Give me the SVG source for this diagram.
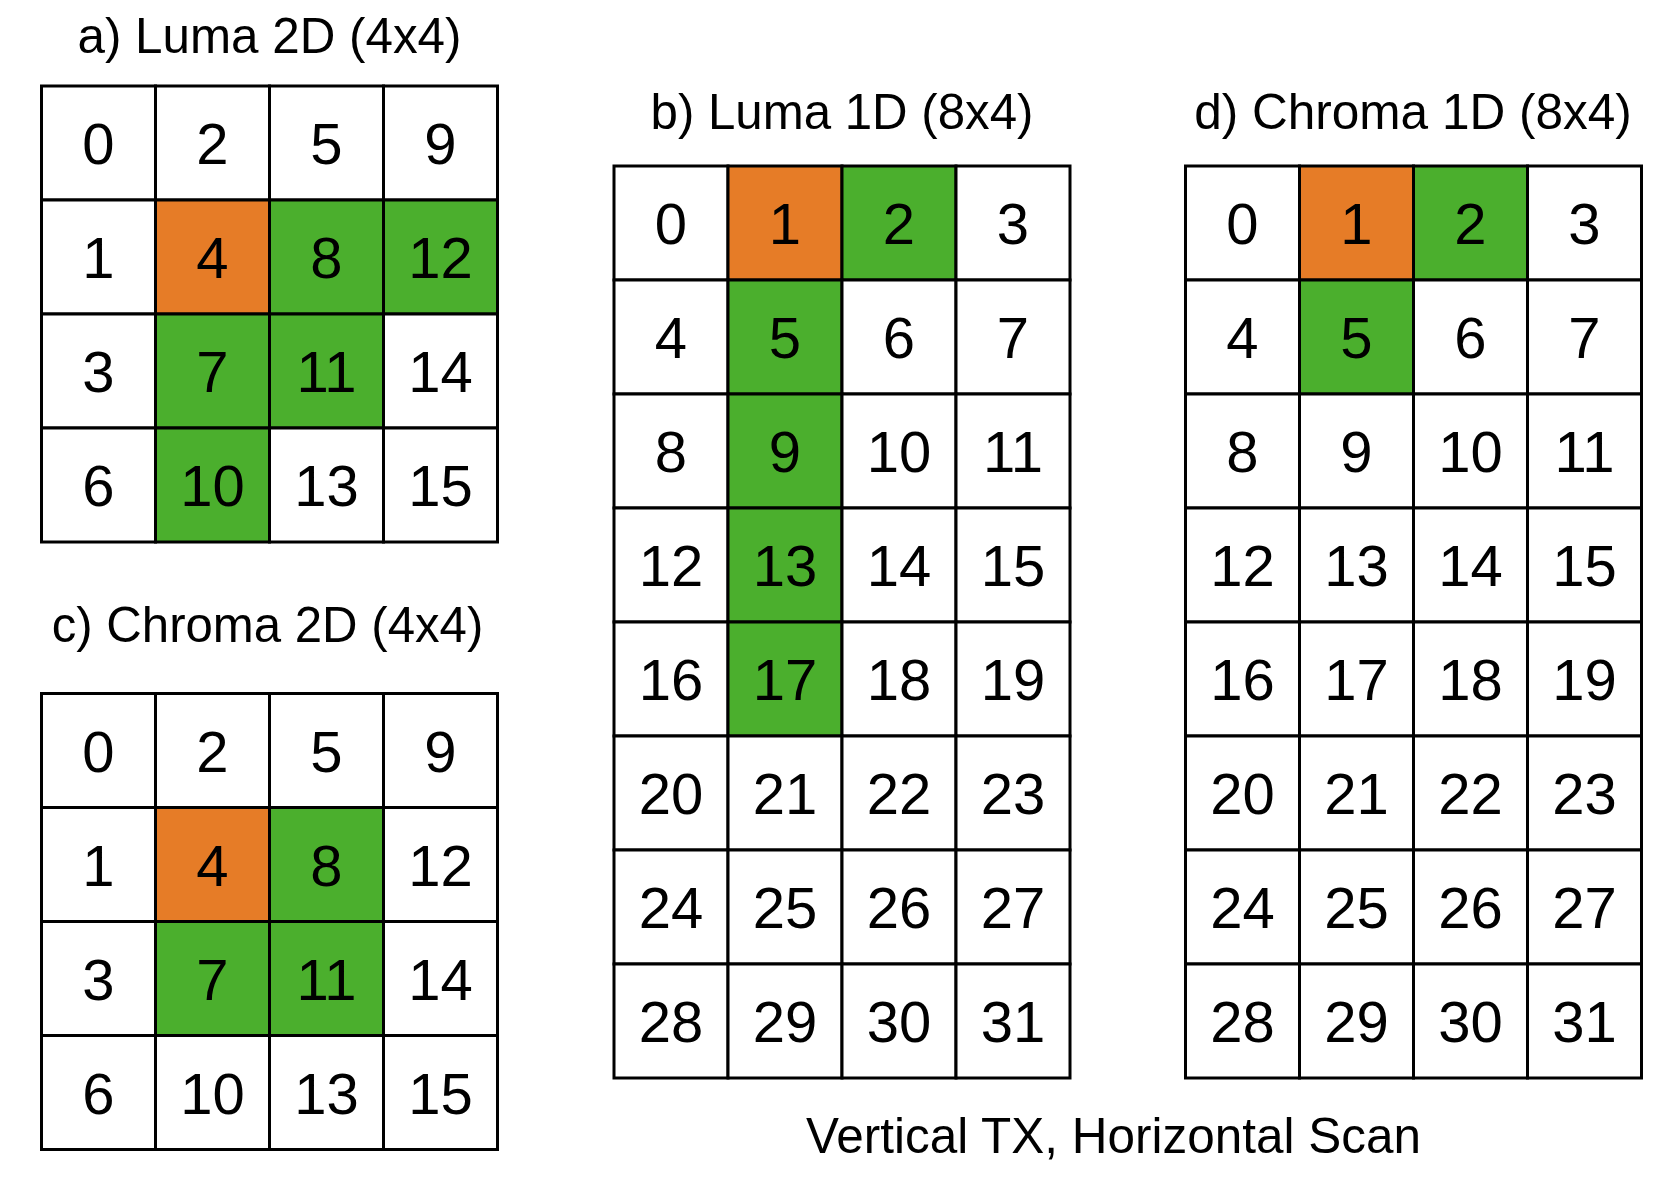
<svg xmlns="http://www.w3.org/2000/svg" width="1666" height="1188" viewBox="0 0 1666 1188">
<style>
.c{fill:#FFFFFF;stroke:#000000;stroke-width:3}
.o{fill:#E67C27;stroke:#000000;stroke-width:3}
.g{fill:#4BAF2D;stroke:#000000;stroke-width:3}
.n{font-family:"Liberation Sans",Arial,Helvetica,sans-serif;font-size:58px;fill:#000000;text-anchor:middle}
.t{font-family:"Liberation Sans",Arial,Helvetica,sans-serif;font-size:49.5px;fill:#000000;text-anchor:middle}
.b{font-family:"Liberation Sans",Arial,Helvetica,sans-serif;font-size:49.5px;fill:#000000;text-anchor:middle}
</style>
<rect x="0" y="0" width="1666" height="1188" fill="#FFFFFF"/>
<g id="connectors"></g>

<g id="grid-a">
<text class="t" x="269.5" y="53" textLength="384" lengthAdjust="spacingAndGlyphs">a) Luma 2D (4x4)</text>
<rect class="c" x="41.5" y="86" width="114" height="114"/>
<rect class="c" x="155.5" y="86" width="114" height="114"/>
<rect class="c" x="269.5" y="86" width="114" height="114"/>
<rect class="c" x="383.5" y="86" width="114" height="114"/>
<rect class="c" x="41.5" y="200" width="114" height="114"/>
<rect class="o" x="155.5" y="200" width="114" height="114"/>
<rect class="g" x="269.5" y="200" width="114" height="114"/>
<rect class="g" x="383.5" y="200" width="114" height="114"/>
<rect class="c" x="41.5" y="314" width="114" height="114"/>
<rect class="g" x="155.5" y="314" width="114" height="114"/>
<rect class="g" x="269.5" y="314" width="114" height="114"/>
<rect class="c" x="383.5" y="314" width="114" height="114"/>
<rect class="c" x="41.5" y="428" width="114" height="114"/>
<rect class="g" x="155.5" y="428" width="114" height="114"/>
<rect class="c" x="269.5" y="428" width="114" height="114"/>
<rect class="c" x="383.5" y="428" width="114" height="114"/>
<text class="n" x="98.5" y="164">0</text><text class="n" x="212.5" y="164">2</text><text class="n" x="326.5" y="164">5</text><text class="n" x="440.5" y="164">9</text>
<text class="n" x="98.5" y="278">1</text><text class="n" x="212.5" y="278">4</text><text class="n" x="326.5" y="278">8</text><text class="n" x="440.5" y="278">12</text>
<text class="n" x="98.5" y="392">3</text><text class="n" x="212.5" y="392">7</text><text class="n" x="326.5" y="392">11</text><text class="n" x="440.5" y="392">14</text>
<text class="n" x="98.5" y="506">6</text><text class="n" x="212.5" y="506">10</text><text class="n" x="326.5" y="506">13</text><text class="n" x="440.5" y="506">15</text>
</g>

<g id="grid-c">
<text class="t" x="267.5" y="641.7" textLength="431.6" lengthAdjust="spacingAndGlyphs">c) Chroma 2D (4x4)</text>
<rect class="c" x="41.5" y="693.5" width="114" height="114"/>
<rect class="c" x="155.5" y="693.5" width="114" height="114"/>
<rect class="c" x="269.5" y="693.5" width="114" height="114"/>
<rect class="c" x="383.5" y="693.5" width="114" height="114"/>
<rect class="c" x="41.5" y="807.5" width="114" height="114"/>
<rect class="o" x="155.5" y="807.5" width="114" height="114"/>
<rect class="g" x="269.5" y="807.5" width="114" height="114"/>
<rect class="c" x="383.5" y="807.5" width="114" height="114"/>
<rect class="c" x="41.5" y="921.5" width="114" height="114"/>
<rect class="g" x="155.5" y="921.5" width="114" height="114"/>
<rect class="g" x="269.5" y="921.5" width="114" height="114"/>
<rect class="c" x="383.5" y="921.5" width="114" height="114"/>
<rect class="c" x="41.5" y="1035.5" width="114" height="114"/>
<rect class="c" x="155.5" y="1035.5" width="114" height="114"/>
<rect class="c" x="269.5" y="1035.5" width="114" height="114"/>
<rect class="c" x="383.5" y="1035.5" width="114" height="114"/>
<text class="n" x="98.5" y="771.5">0</text><text class="n" x="212.5" y="771.5">2</text><text class="n" x="326.5" y="771.5">5</text><text class="n" x="440.5" y="771.5">9</text>
<text class="n" x="98.5" y="885.5">1</text><text class="n" x="212.5" y="885.5">4</text><text class="n" x="326.5" y="885.5">8</text><text class="n" x="440.5" y="885.5">12</text>
<text class="n" x="98.5" y="999.5">3</text><text class="n" x="212.5" y="999.5">7</text><text class="n" x="326.5" y="999.5">11</text><text class="n" x="440.5" y="999.5">14</text>
<text class="n" x="98.5" y="1113.5">6</text><text class="n" x="212.5" y="1113.5">10</text><text class="n" x="326.5" y="1113.5">13</text><text class="n" x="440.5" y="1113.5">15</text>
</g>

<g id="grid-b">
<text class="t" x="842" y="129.3" textLength="383" lengthAdjust="spacingAndGlyphs">b) Luma 1D (8x4)</text>
<rect class="c" x="614" y="166" width="114" height="114"/>
<rect class="o" x="728" y="166" width="114" height="114"/>
<rect class="g" x="842" y="166" width="114" height="114"/>
<rect class="c" x="956" y="166" width="114" height="114"/>
<rect class="c" x="614" y="280" width="114" height="114"/>
<rect class="g" x="728" y="280" width="114" height="114"/>
<rect class="c" x="842" y="280" width="114" height="114"/>
<rect class="c" x="956" y="280" width="114" height="114"/>
<rect class="c" x="614" y="394" width="114" height="114"/>
<rect class="g" x="728" y="394" width="114" height="114"/>
<rect class="c" x="842" y="394" width="114" height="114"/>
<rect class="c" x="956" y="394" width="114" height="114"/>
<rect class="c" x="614" y="508" width="114" height="114"/>
<rect class="g" x="728" y="508" width="114" height="114"/>
<rect class="c" x="842" y="508" width="114" height="114"/>
<rect class="c" x="956" y="508" width="114" height="114"/>
<rect class="c" x="614" y="622" width="114" height="114"/>
<rect class="g" x="728" y="622" width="114" height="114"/>
<rect class="c" x="842" y="622" width="114" height="114"/>
<rect class="c" x="956" y="622" width="114" height="114"/>
<rect class="c" x="614" y="736" width="114" height="114"/>
<rect class="c" x="728" y="736" width="114" height="114"/>
<rect class="c" x="842" y="736" width="114" height="114"/>
<rect class="c" x="956" y="736" width="114" height="114"/>
<rect class="c" x="614" y="850" width="114" height="114"/>
<rect class="c" x="728" y="850" width="114" height="114"/>
<rect class="c" x="842" y="850" width="114" height="114"/>
<rect class="c" x="956" y="850" width="114" height="114"/>
<rect class="c" x="614" y="964" width="114" height="114"/>
<rect class="c" x="728" y="964" width="114" height="114"/>
<rect class="c" x="842" y="964" width="114" height="114"/>
<rect class="c" x="956" y="964" width="114" height="114"/>
<text class="n" x="671" y="244">0</text><text class="n" x="785" y="244">1</text><text class="n" x="899" y="244">2</text><text class="n" x="1013" y="244">3</text>
<text class="n" x="671" y="358">4</text><text class="n" x="785" y="358">5</text><text class="n" x="899" y="358">6</text><text class="n" x="1013" y="358">7</text>
<text class="n" x="671" y="472">8</text><text class="n" x="785" y="472">9</text><text class="n" x="899" y="472">10</text><text class="n" x="1013" y="472">11</text>
<text class="n" x="671" y="586">12</text><text class="n" x="785" y="586">13</text><text class="n" x="899" y="586">14</text><text class="n" x="1013" y="586">15</text>
<text class="n" x="671" y="700">16</text><text class="n" x="785" y="700">17</text><text class="n" x="899" y="700">18</text><text class="n" x="1013" y="700">19</text>
<text class="n" x="671" y="814">20</text><text class="n" x="785" y="814">21</text><text class="n" x="899" y="814">22</text><text class="n" x="1013" y="814">23</text>
<text class="n" x="671" y="928">24</text><text class="n" x="785" y="928">25</text><text class="n" x="899" y="928">26</text><text class="n" x="1013" y="928">27</text>
<text class="n" x="671" y="1042">28</text><text class="n" x="785" y="1042">29</text><text class="n" x="899" y="1042">30</text><text class="n" x="1013" y="1042">31</text>
</g>

<g id="grid-d">
<text class="t" x="1413" y="129.3" textLength="437.7" lengthAdjust="spacingAndGlyphs">d) Chroma 1D (8x4)</text>
<rect class="c" x="1185.5" y="166" width="114" height="114"/>
<rect class="o" x="1299.5" y="166" width="114" height="114"/>
<rect class="g" x="1413.5" y="166" width="114" height="114"/>
<rect class="c" x="1527.5" y="166" width="114" height="114"/>
<rect class="c" x="1185.5" y="280" width="114" height="114"/>
<rect class="g" x="1299.5" y="280" width="114" height="114"/>
<rect class="c" x="1413.5" y="280" width="114" height="114"/>
<rect class="c" x="1527.5" y="280" width="114" height="114"/>
<rect class="c" x="1185.5" y="394" width="114" height="114"/>
<rect class="c" x="1299.5" y="394" width="114" height="114"/>
<rect class="c" x="1413.5" y="394" width="114" height="114"/>
<rect class="c" x="1527.5" y="394" width="114" height="114"/>
<rect class="c" x="1185.5" y="508" width="114" height="114"/>
<rect class="c" x="1299.5" y="508" width="114" height="114"/>
<rect class="c" x="1413.5" y="508" width="114" height="114"/>
<rect class="c" x="1527.5" y="508" width="114" height="114"/>
<rect class="c" x="1185.5" y="622" width="114" height="114"/>
<rect class="c" x="1299.5" y="622" width="114" height="114"/>
<rect class="c" x="1413.5" y="622" width="114" height="114"/>
<rect class="c" x="1527.5" y="622" width="114" height="114"/>
<rect class="c" x="1185.5" y="736" width="114" height="114"/>
<rect class="c" x="1299.5" y="736" width="114" height="114"/>
<rect class="c" x="1413.5" y="736" width="114" height="114"/>
<rect class="c" x="1527.5" y="736" width="114" height="114"/>
<rect class="c" x="1185.5" y="850" width="114" height="114"/>
<rect class="c" x="1299.5" y="850" width="114" height="114"/>
<rect class="c" x="1413.5" y="850" width="114" height="114"/>
<rect class="c" x="1527.5" y="850" width="114" height="114"/>
<rect class="c" x="1185.5" y="964" width="114" height="114"/>
<rect class="c" x="1299.5" y="964" width="114" height="114"/>
<rect class="c" x="1413.5" y="964" width="114" height="114"/>
<rect class="c" x="1527.5" y="964" width="114" height="114"/>
<text class="n" x="1242.5" y="244">0</text><text class="n" x="1356.5" y="244">1</text><text class="n" x="1470.5" y="244">2</text><text class="n" x="1584.5" y="244">3</text>
<text class="n" x="1242.5" y="358">4</text><text class="n" x="1356.5" y="358">5</text><text class="n" x="1470.5" y="358">6</text><text class="n" x="1584.5" y="358">7</text>
<text class="n" x="1242.5" y="472">8</text><text class="n" x="1356.5" y="472">9</text><text class="n" x="1470.5" y="472">10</text><text class="n" x="1584.5" y="472">11</text>
<text class="n" x="1242.5" y="586">12</text><text class="n" x="1356.5" y="586">13</text><text class="n" x="1470.5" y="586">14</text><text class="n" x="1584.5" y="586">15</text>
<text class="n" x="1242.5" y="700">16</text><text class="n" x="1356.5" y="700">17</text><text class="n" x="1470.5" y="700">18</text><text class="n" x="1584.5" y="700">19</text>
<text class="n" x="1242.5" y="814">20</text><text class="n" x="1356.5" y="814">21</text><text class="n" x="1470.5" y="814">22</text><text class="n" x="1584.5" y="814">23</text>
<text class="n" x="1242.5" y="928">24</text><text class="n" x="1356.5" y="928">25</text><text class="n" x="1470.5" y="928">26</text><text class="n" x="1584.5" y="928">27</text>
<text class="n" x="1242.5" y="1042">28</text><text class="n" x="1356.5" y="1042">29</text><text class="n" x="1470.5" y="1042">30</text><text class="n" x="1584.5" y="1042">31</text>
</g>

<g id="caption">
<text class="b" x="1113.5" y="1153.3" textLength="615" lengthAdjust="spacingAndGlyphs">Vertical TX, Horizontal Scan</text>
</g>
</svg>
